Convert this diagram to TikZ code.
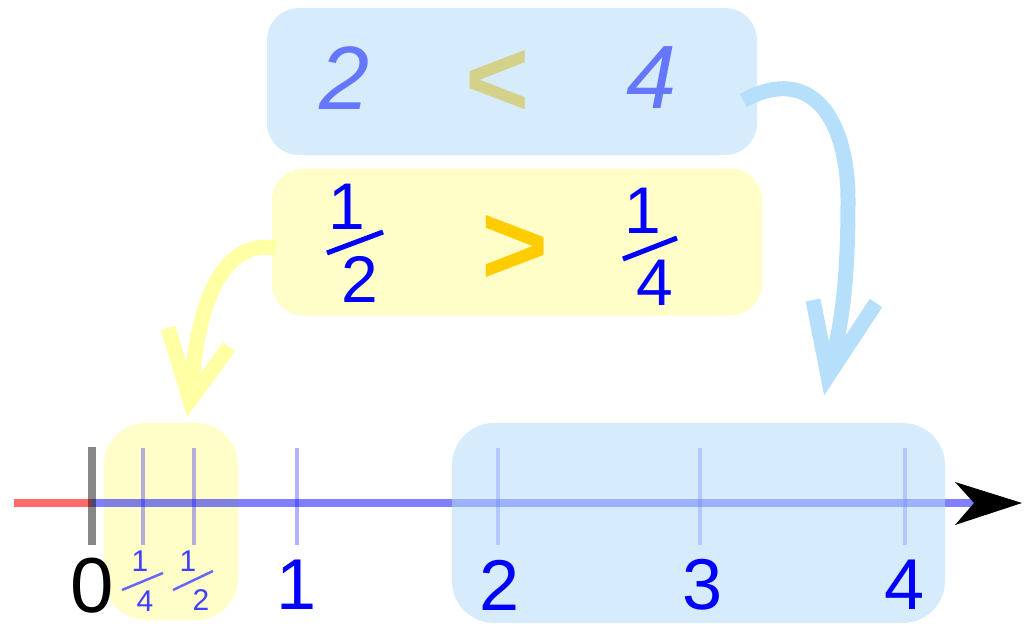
\documentclass[tikz,border=0pt]{standalone}
\usepackage{fontspec}
\setmainfont{Liberation Sans}
\definecolor{boxblue}{HTML}{B4DCF9}
\definecolor{hlyellow}{HTML}{FFFDC8}
\definecolor{arrblue}{HTML}{B6DFFC}
\definecolor{arryellow}{HTML}{FFFFA4}
\definecolor{softblue}{HTML}{6677FF}
\definecolor{khaki}{HTML}{D4D28A}
\definecolor{gold}{HTML}{FFCC00}
\definecolor{pureblue}{HTML}{0000FF}
\begin{document}
\begin{tikzpicture}[x=1pt,y=-1pt,
  bluebox/.style={rounded corners=32pt, inner sep=0pt, fill=boxblue, fill opacity=0.55},
  yellowbox/.style={rounded corners=32pt, inner sep=0pt, fill=hlyellow},
  lab/.style={inner sep=0pt, text=pureblue, font=\fontsize{72pt}{72pt}\selectfont},
  bigdig/.style={inner sep=0pt, text=softblue, font=\fontsize{90pt}{90pt}\selectfont\itshape},
  fracdig/.style={inner sep=0pt, text=pureblue, font=\fontsize{66pt}{66pt}\selectfont},
  smalldig/.style={inner sep=0pt, text=pureblue!75, font=\fontsize{30pt}{30pt}\selectfont},
  fracbar/.style={draw=pureblue, line width=5pt},
  smallbar/.style={draw=pureblue!60, line width=2.5pt},
  tickline/.style={draw=pureblue, draw opacity=0.3, line width=4pt},
  flow/.style={line width=15pt, line cap=butt},
]
\useasboundingbox (0,0) rectangle (1030,642);

% top comparison boxes
\node[bluebox, minimum width=490pt, minimum height=147pt] (topbox) at (512,81.5) {};
\node[yellowbox, minimum width=490pt, minimum height=147pt] (fracbox) at (517,242) {};

% number line highlight (yellow, below the line)
\node[yellowbox, rounded corners=42pt, minimum width=134pt, minimum height=197pt] (yhl) at (171,521.5) {};

% axis
\draw[red, draw opacity=0.58, line width=8pt] (14,503) -- (92,503);
\draw[pureblue, draw opacity=0.5, line width=8pt] (92,503) -- (995,503);
\draw[black, draw opacity=0.47, line width=8pt] (92,447) -- (92,545);
\foreach \xx in {143,194,297,498,700,905}
  \draw[tickline] (\xx,448) -- (\xx,545);

% blue highlight over the line
\node[bluebox, rounded corners=42pt, minimum width=493pt, minimum height=200pt] (bhl) at (698.5,523) {};

% arrow head of the axis
\fill[black] (1022,503) -- (955,482) -- (974,503) -- (955,525) -- cycle;

% labels on the axis
\node[lab, text=black, font=\fontsize{78pt}{78pt}\selectfont] (l0) at (92,586) {0};
\node[lab] (l1) at (297,585) {1};
\node[lab] (l2) at (500,585) {2};
\node[lab] (l3) at (703,585) {3};
\node[lab] (l4) at (905,585) {4};

% small fractions
\node[smalldig] (q1) at (140,561) {1};
\draw[smallbar] (122,590) -- (163,573);
\node[smalldig] (q4) at (145,601) {4};
\node[smalldig] (h1) at (188,561) {1};
\draw[smallbar] (173,590) -- (213,571);
\node[smalldig] (h2) at (201,600) {2};

% top row: 2 < 4
\node[bigdig] (t2) at (345,78) {2};
\node[inner sep=0pt, text=khaki, font=\fontsize{110pt}{110pt}\selectfont\bfseries] (lt) at (498,83) {<};
\node[bigdig] (t4) at (652,78) {4};

% second row: 1/2 > 1/4
\node[fracdig] (a1) at (347,207) {1};
\draw[fracbar] (327,253) -- (383,232);
\node[fracdig] (a2) at (360,279) {2};
\node[inner sep=0pt, text=gold, font=\fontsize{115pt}{115pt}\selectfont\bfseries] (gt) at (515,250) {>};
\node[fracdig] (b1) at (643,211) {1};
\draw[fracbar] (623,259) -- (677,238);
\node[fracdig] (b4) at (655,283) {4};

% curved arrows
\coordinate (bs) at ([xshift=-14pt,yshift=-19pt]topbox.east);
\coordinate (be) at (828,374);
\draw[flow, arrblue] (bs) .. controls (812,63) and (848,120) .. (848,200)
  .. controls (848,280) and (842,330) .. (be);
\draw[flow, arrblue, line join=miter] (813,300) -- (828,376) -- (876,303);

\coordinate (ys) at ([xshift=4pt,yshift=-6pt]fracbox.west);
\coordinate (ye) at (191,396);
\draw[flow, arryellow] (ys) .. controls (228,240) and (197,290) .. (ye);
\draw[flow, arryellow, line join=miter] (168,328) -- (190,400) -- (229,347);
\end{tikzpicture}
\end{document}
